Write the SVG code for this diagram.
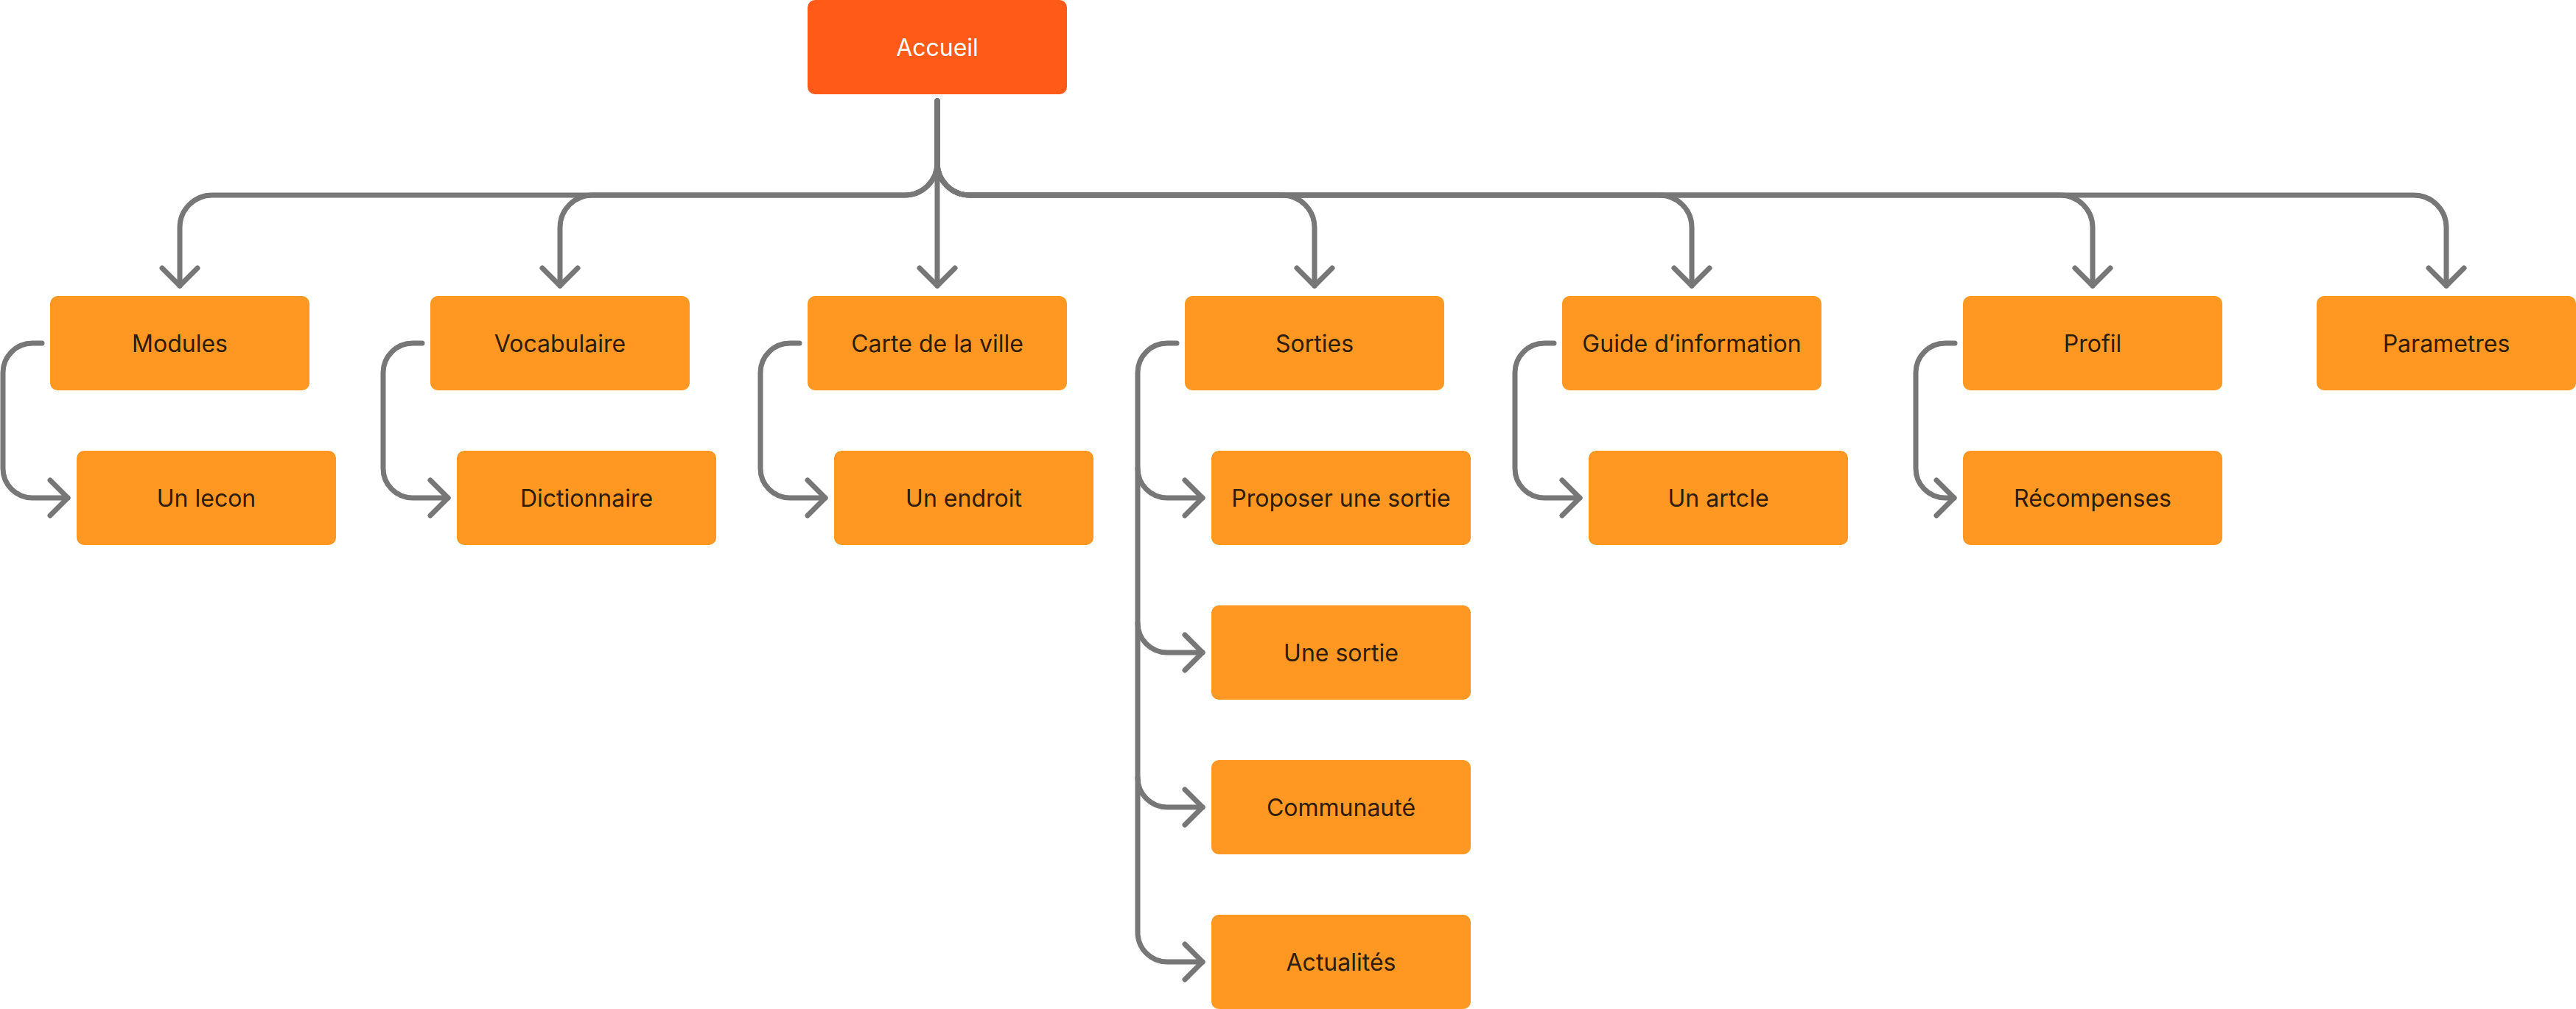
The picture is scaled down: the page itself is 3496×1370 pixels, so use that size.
<svg xmlns="http://www.w3.org/2000/svg" width="3496" height="1370" viewBox="0 0 3496 1370">
<style>
.box{fill:#FE9823}
.root{fill:#FF5A17}
.lbl{font-family:Inter,"Noto Sans","Liberation Sans",sans-serif;font-size:32px;fill:#2E1C08;text-anchor:middle}
.rlbl{font-family:Inter,"Noto Sans","Liberation Sans",sans-serif;font-size:32px;fill:#FFFFFF;text-anchor:middle}
.ln{fill:none;stroke:#777777;stroke-width:7;stroke-linecap:round;stroke-linejoin:round}
</style>
<rect width="3496" height="1370" fill="#FFFFFF"/>
<g id="connectors" class="ln">
  <!-- trunk and top branches -->
  <path d="M1272 137 V388"/>
  <path d="M1248 364 L1272 388 L1296 364"/>
  <path d="M1272 137 V221 A44 44 0 0 1 1228 265 H288 A44 44 0 0 0 244 309 V388"/>
  <path d="M220 364 L244 388 L268 364"/>
  <path d="M1272 137 V221 A44 44 0 0 1 1228 265 H804 A44 44 0 0 0 760 309 V388"/>
  <path d="M736 364 L760 388 L784 364"/>
  <path d="M1272 137 V221 A44 44 0 0 0 1316 265 H1740 A44 44 0 0 1 1784 309 V388"/>
  <path d="M1760 364 L1784 388 L1808 364"/>
  <path d="M1272 137 V221 A44 44 0 0 0 1316 265 H2252 A44 44 0 0 1 2296 309 V388"/>
  <path d="M2272 364 L2296 388 L2320 364"/>
  <path d="M1272 137 V221 A44 44 0 0 0 1316 265 H2796 A44 44 0 0 1 2840 309 V388"/>
  <path d="M2816 364 L2840 388 L2864 364"/>
  <path d="M1272 137 V221 A44 44 0 0 0 1316 265 H3276 A44 44 0 0 1 3320 309 V388"/>
  <path d="M3296 364 L3320 388 L3344 364"/>
  <!-- side connectors -->
  <path d="M57 466 H44 A40 40 0 0 0 4 506 V636 A40 40 0 0 0 44 676 H92"/>
  <path d="M68 652 L92 676 L68 700"/>
  <path d="M573 466 H560 A40 40 0 0 0 520 506 V636 A40 40 0 0 0 560 676 H608"/>
  <path d="M584 652 L608 676 L584 700"/>
  <path d="M1085 466 H1072 A40 40 0 0 0 1032 506 V636 A40 40 0 0 0 1072 676 H1120"/>
  <path d="M1096 652 L1120 676 L1096 700"/>
  <path d="M1597 466 H1584 A40 40 0 0 0 1544 506 V1266 A40 40 0 0 0 1584 1306 H1632"/>
  <path d="M1544 636 A40 40 0 0 0 1584 676 H1632"/>
  <path d="M1544 846 A40 40 0 0 0 1584 886 H1632"/>
  <path d="M1544 1056 A40 40 0 0 0 1584 1096 H1632"/>
  <path d="M1608 652 L1632 676 L1608 700"/>
  <path d="M1608 862 L1632 886 L1608 910"/>
  <path d="M1608 1072 L1632 1096 L1608 1120"/>
  <path d="M1608 1282 L1632 1306 L1608 1330"/>
  <path d="M2109 466 H2096 A40 40 0 0 0 2056 506 V636 A40 40 0 0 0 2096 676 H2144"/>
  <path d="M2120 652 L2144 676 L2120 700"/>
  <path d="M2653 466 H2640 A40 40 0 0 0 2600 506 V636 A40 40 0 0 0 2640 676 H2652"/>
  <path d="M2628 652 L2652 676 L2628 700"/>
</g>
<g id="accueil"><rect class="root" x="1096" y="0" width="352" height="128" rx="10"/><text class="rlbl" x="1272" y="75.6">Accueil</text></g>
<g id="modules"><rect class="box" x="68" y="402" width="352" height="128" rx="10"/><text class="lbl" x="244" y="477.6">Modules</text></g>
<g id="vocabulaire"><rect class="box" x="584" y="402" width="352" height="128" rx="10"/><text class="lbl" x="760" y="477.6">Vocabulaire</text></g>
<g id="carte"><rect class="box" x="1096" y="402" width="352" height="128" rx="10"/><text class="lbl" x="1272" y="477.6">Carte de la ville</text></g>
<g id="sorties"><rect class="box" x="1608" y="402" width="352" height="128" rx="10"/><text class="lbl" x="1784" y="477.6">Sorties</text></g>
<g id="guide"><rect class="box" x="2120" y="402" width="352" height="128" rx="10"/><text class="lbl" x="2296" y="477.6">Guide d’information</text></g>
<g id="profil"><rect class="box" x="2664" y="402" width="352" height="128" rx="10"/><text class="lbl" x="2840" y="477.6">Profil</text></g>
<g id="parametres"><rect class="box" x="3144" y="402" width="352" height="128" rx="10"/><text class="lbl" x="3320" y="477.6">Parametres</text></g>
<g id="unlecon"><rect class="box" x="104" y="612" width="352" height="128" rx="10"/><text class="lbl" x="280" y="687.6">Un lecon</text></g>
<g id="dictionnaire"><rect class="box" x="620" y="612" width="352" height="128" rx="10"/><text class="lbl" x="796" y="687.6">Dictionnaire</text></g>
<g id="unendroit"><rect class="box" x="1132" y="612" width="352" height="128" rx="10"/><text class="lbl" x="1308" y="687.6">Un endroit</text></g>
<g id="proposer"><rect class="box" x="1644" y="612" width="352" height="128" rx="10"/><text class="lbl" x="1820" y="687.6">Proposer une sortie</text></g>
<g id="unesortie"><rect class="box" x="1644" y="822" width="352" height="128" rx="10"/><text class="lbl" x="1820" y="897.6">Une sortie</text></g>
<g id="communaute"><rect class="box" x="1644" y="1032" width="352" height="128" rx="10"/><text class="lbl" x="1820" y="1107.6">Communauté</text></g>
<g id="actualites"><rect class="box" x="1644" y="1242" width="352" height="128" rx="10"/><text class="lbl" x="1820" y="1317.6">Actualités</text></g>
<g id="unartcle"><rect class="box" x="2156" y="612" width="352" height="128" rx="10"/><text class="lbl" x="2332" y="687.6">Un artcle</text></g>
<g id="recompenses"><rect class="box" x="2664" y="612" width="352" height="128" rx="10"/><text class="lbl" x="2840" y="687.6">Récompenses</text></g>
</svg>
